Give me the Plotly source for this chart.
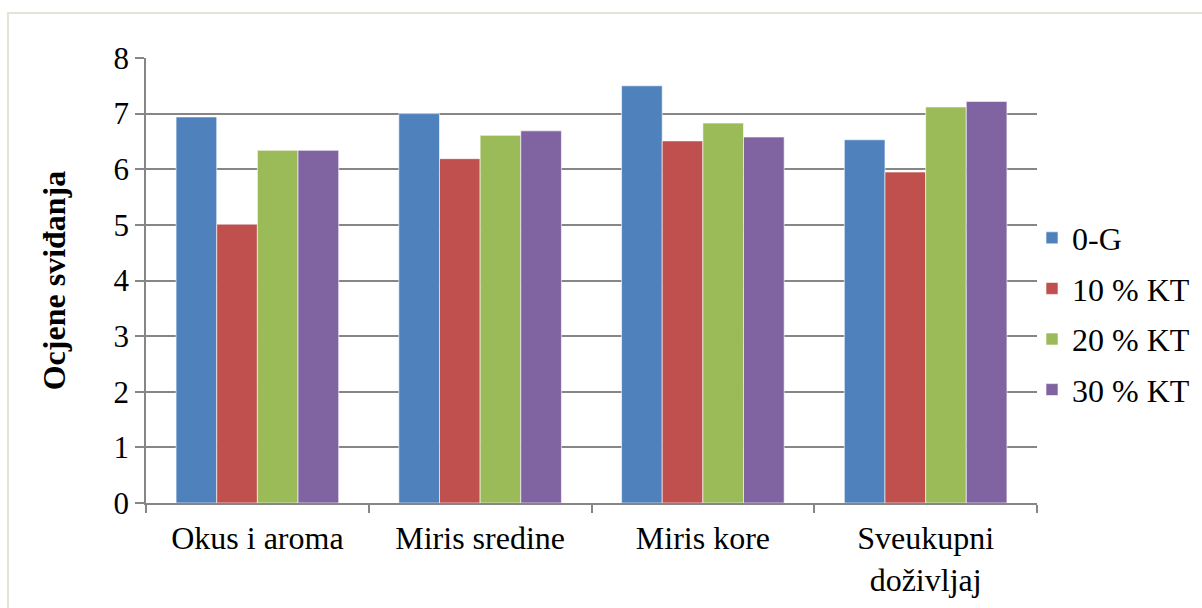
import plotly.graph_objects as go

categories = ["Okus i aroma", "Miris sredine", "Miris kore", "Sveukupni<br>doživljaj"]
series_names = ["0-G", "10 % KT", "20 % KT", "30 % KT"]
v_0G = [6.94, 7.00, 7.50, 6.53]
v_10 = [5.01, 6.19, 6.51, 5.95]
v_20 = [6.34, 6.61, 6.83, 7.12]
v_30 = [6.34, 6.69, 6.58, 7.22]
y_ticks = [0, 1, 2, 3, 4, 5, 6, 7, 8]

colors = ["#4F81BD", "#C0504D", "#9BBB59", "#8064A2"]
values = [v_0G, v_10, v_20, v_30]

fig = go.Figure()
for name, vals, col in zip(series_names, values, colors):
    fig.add_trace(go.Bar(
        x=categories, y=vals, name=name, legendgroup=name,
        marker=dict(color=col, line=dict(color="rgba(255,255,255,0.6)", width=1)),
    ))

font_family = "Liberation Serif, Times New Roman, serif"
W, H = 1202, 608
L, R, T, B = 146, 0, 58, 105
plot_right = 1037
pw, ph = W - L - R, H - T - B

fig.update_layout(
    width=W, height=H,
    margin=dict(l=L, r=R, t=T, b=B),
    paper_bgcolor="white", plot_bgcolor="white",
    barmode="group", bargap=0.27, bargroupgap=0,
    font=dict(family=font_family, color="black"),
    showlegend=True,
    legend=dict(x=(1032 - L) / pw, y=(H - B - 314) / ph, xanchor="left", yanchor="middle",
                font=dict(size=32, family=font_family),
                itemwidth=30, tracegroupgap=6, bgcolor="rgba(0,0,0,0)"),
    xaxis=dict(type="category", domain=[0, (plot_right - L) / pw],
               tickson="boundaries", ticks="outside",
               ticklen=8, tickcolor="#868686", tickwidth=1.5,
               showline=True, linecolor="#868686", linewidth=1.5,
               showgrid=False, ticklabelstandoff=6,
               tickfont=dict(size=32, family=font_family)),
    yaxis=dict(range=[0, 8], tickvals=y_ticks, ticks="outside", ticklen=9,
               tickcolor="#868686", tickwidth=1.5,
               showline=True, linecolor="#868686", linewidth=1.5,
               showgrid=True, gridcolor="#868686", gridwidth=1.5,
               zeroline=False,
               tickfont=dict(size=31, family=font_family),
               title=dict(text="<b>Ocjene sviđanja</b>", standoff=38,
                          font=dict(size=32, family=font_family))),
)

# outer chart border (only left and top edges visible in frame)
fig.add_shape(type="rect", xref="paper", yref="paper",
              x0=(8 - L) / pw, x1=(1230 - L) / pw,
              y0=(H - 640 - B) / ph, y1=(H - 13 - B) / ph,
              line=dict(color="#E6E2D6", width=2), fillcolor="rgba(0,0,0,0)",
              layer="below")

fig.write_html("out.html", config={"displayModeBar": False},
               post_script="document.body.style.margin='0';document.body.style.overflow='hidden';")
